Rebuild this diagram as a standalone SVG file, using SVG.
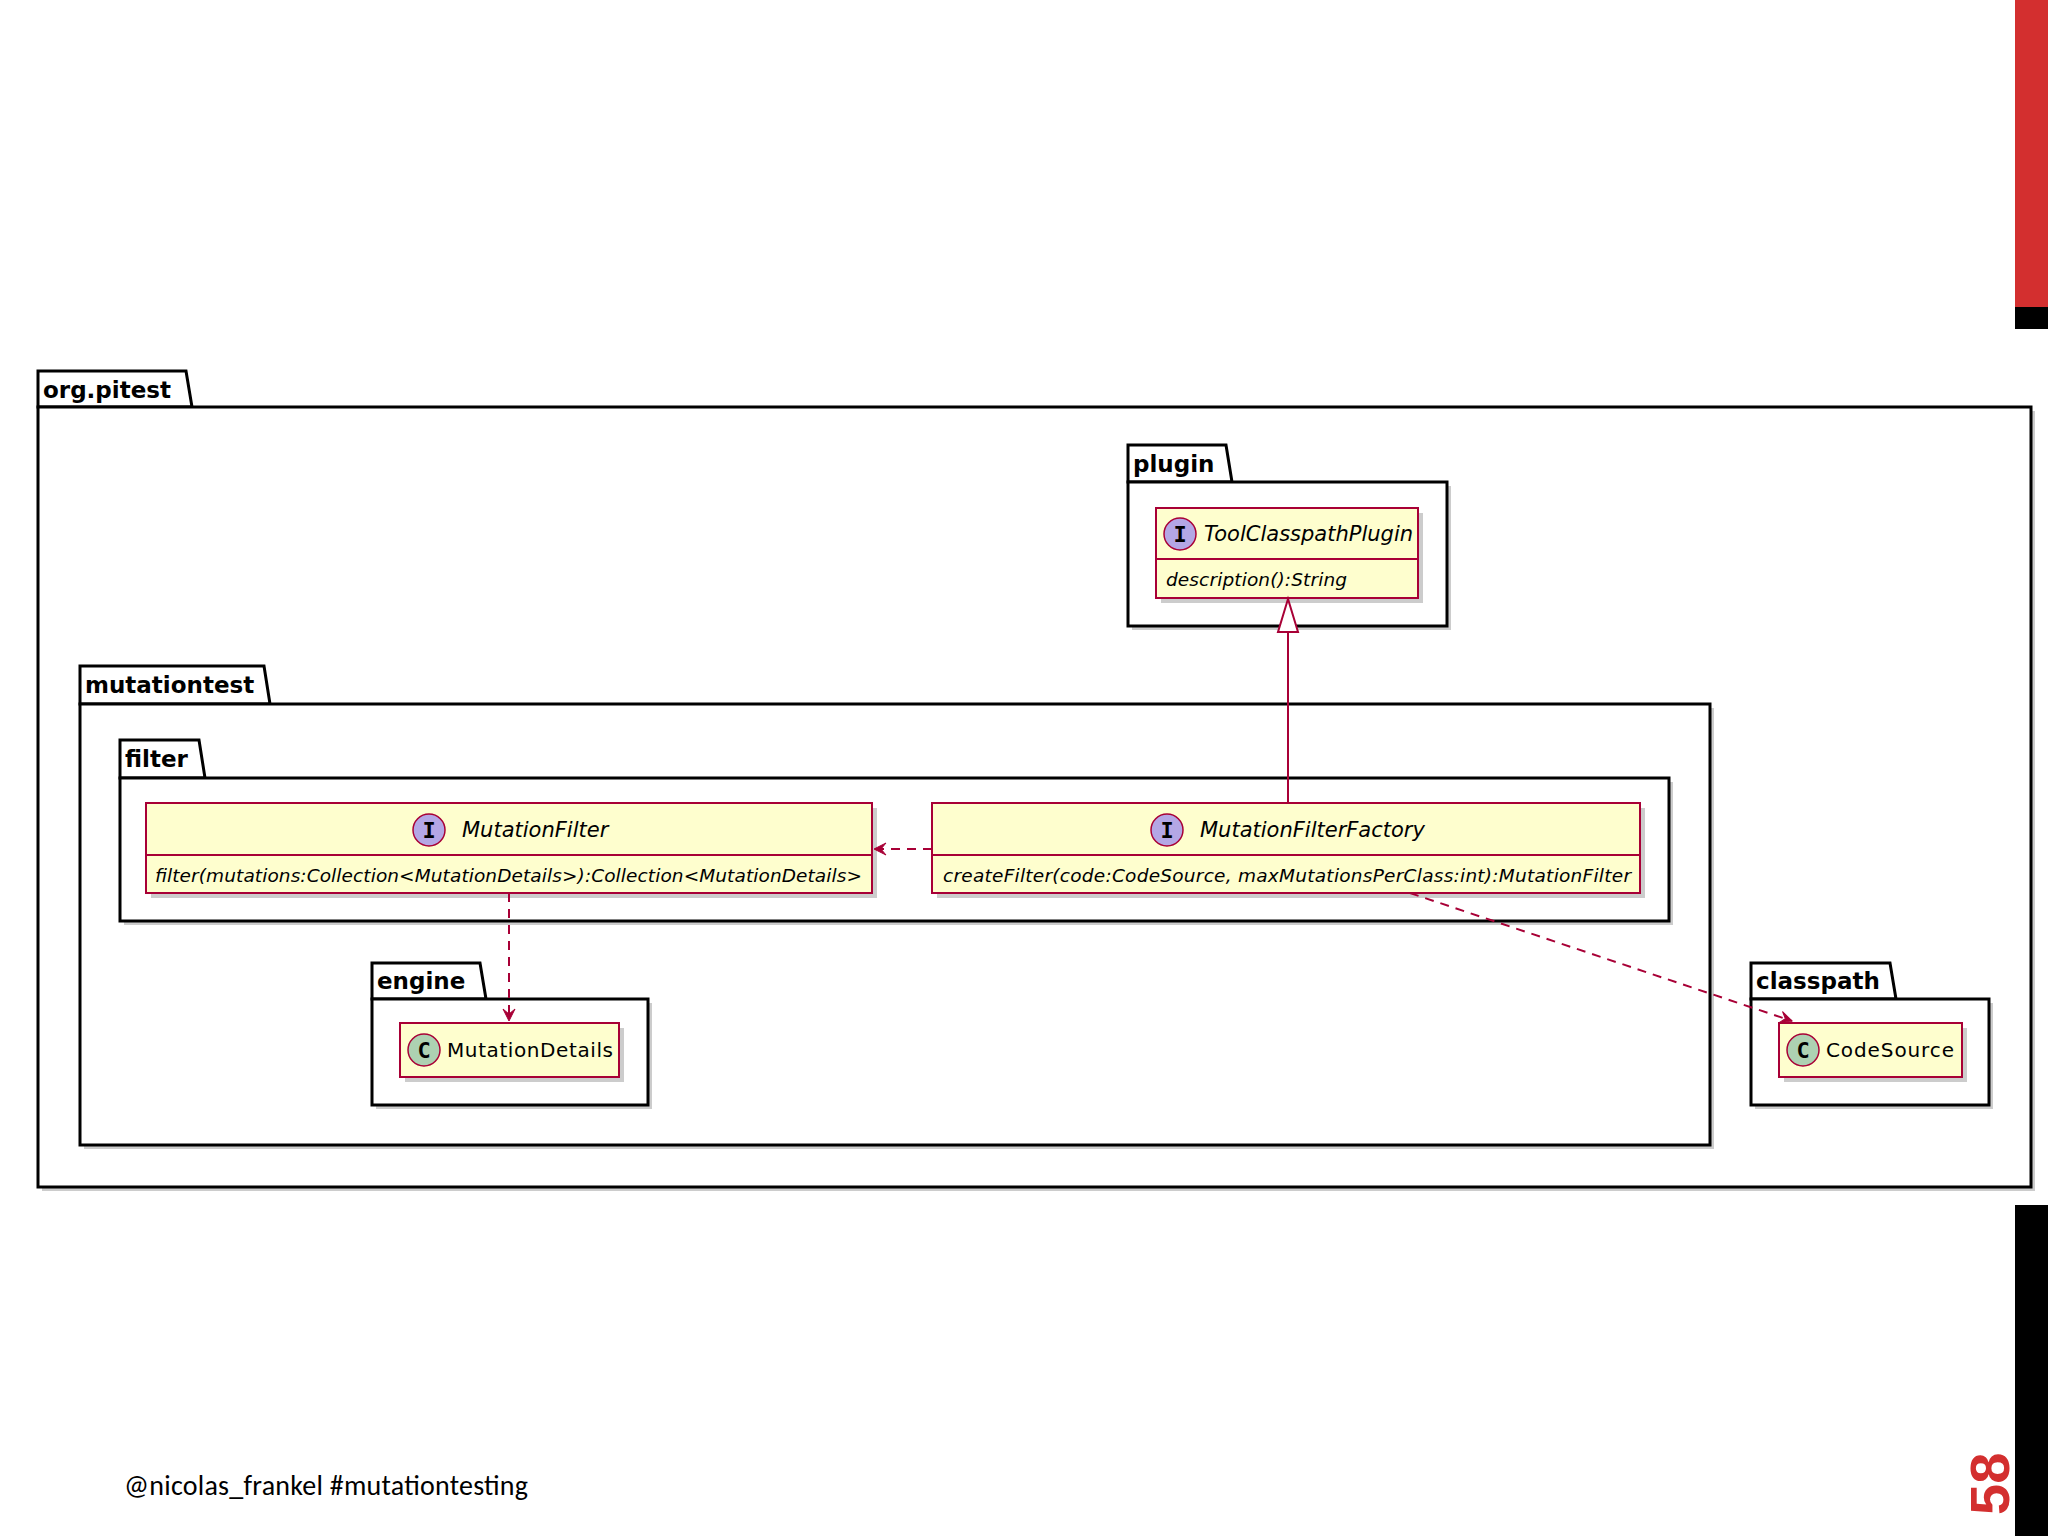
<svg xmlns="http://www.w3.org/2000/svg" width="2048" height="1536" viewBox="0 0 2048 1536">
<style>
.pkg{fill:#fff;stroke:#000;stroke-width:3}
.pl{font-family:"DejaVu Sans",sans-serif;font-weight:bold;font-size:23px;fill:#000}
.cls{fill:#FEFECE;stroke:#A80036;stroke-width:2}
.cn{font-family:"DejaVu Sans",sans-serif;font-style:italic;font-size:21px;fill:#000}
.cc{font-family:"DejaVu Sans",sans-serif;font-size:20px;fill:#000}
.mem{font-family:"DejaVu Sans",sans-serif;font-style:italic;font-size:18.5px;fill:#000}
.sh{fill:#000;opacity:0.2}
.ci{fill:#B4A7E5;stroke:#A80036;stroke-width:1.5}
.cc2{fill:#ADD1B2;stroke:#A80036;stroke-width:1.5}
.glyph{font-family:"DejaVu Sans Mono",monospace;font-weight:bold;font-size:22px;text-anchor:middle}
.edge{stroke:#A80036;stroke-width:2;fill:none}
.dash{stroke-dasharray:9,7}
</style>
<defs>
<marker id="open" markerWidth="16" markerHeight="16" refX="14" refY="8" orient="auto" markerUnits="userSpaceOnUse"><path d="M2,2 L14,8 L2,14 L7,8 Z" fill="#A80036" stroke="#A80036"/></marker>
</defs>
<rect x="2015" y="0" width="33" height="307" fill="#D32F2F"/>
<rect x="2015" y="307" width="33" height="22" fill="#000"/>
<rect x="2015" y="1205" width="33" height="331" fill="#000"/>
<text x="0" y="0" transform="translate(2009,1515) rotate(-90)" font-family="Liberation Sans,sans-serif" font-weight="bold" font-size="56" fill="#D32F2F">58</text>
<text x="124" y="1495" font-family="Carlito,Liberation Sans,sans-serif" font-size="28" fill="#000" textLength="404">@nicolas_frankel #mutationtesting</text>

<g id="org.pitest">
<rect x="42" y="411" width="1993" height="780" class="sh"/>
<path d="M38,407 L38,371 L186,371 L192,407 Z" class="pkg"/>
<rect x="38" y="407" width="1993" height="780" class="pkg"/>
<text x="43" y="398" class="pl">org.pitest</text>
</g>
<g id="plugin">
<rect x="1132" y="486" width="319" height="144" class="sh"/>
<path d="M1128,482 L1128,445 L1226,445 L1232,482 Z" class="pkg"/>
<rect x="1128" y="482" width="319" height="144" class="pkg"/>
<text x="1133" y="472" class="pl">plugin</text>
</g>
<g id="mutationtest">
<rect x="84" y="708" width="1630" height="441" class="sh"/>
<path d="M80,704 L80,666 L264,666 L270,704 Z" class="pkg"/>
<rect x="80" y="704" width="1630" height="441" class="pkg"/>
<text x="85" y="693" class="pl">mutationtest</text>
</g>
<g id="filter">
<rect x="124" y="782" width="1549" height="143" class="sh"/>
<path d="M120,778 L120,740 L199,740 L205,778 Z" class="pkg"/>
<rect x="120" y="778" width="1549" height="143" class="pkg"/>
<text x="125" y="767" class="pl">filter</text>
</g>
<g id="engine">
<rect x="376" y="1003" width="276" height="106" class="sh"/>
<path d="M372,999 L372,963 L480,963 L486,999 Z" class="pkg"/>
<rect x="372" y="999" width="276" height="106" class="pkg"/>
<text x="377" y="989" class="pl">engine</text>
</g>
<g id="classpath">
<rect x="1755" y="1003" width="238" height="106" class="sh"/>
<path d="M1751,999 L1751,963 L1890,963 L1896,999 Z" class="pkg"/>
<rect x="1751" y="999" width="238" height="106" class="pkg"/>
<text x="1756" y="989" class="pl">classpath</text>
</g>

<g id="ToolClasspathPlugin">
<rect x="1161" y="513" width="262" height="90" class="sh"/>
<rect x="1156" y="508" width="262" height="90" class="cls"/>
<line x1="1156" y1="559" x2="1418" y2="559" stroke="#A80036" stroke-width="2"/>
<circle cx="1180" cy="534" r="16" class="ci"/>
<text x="1180" y="542" class="glyph">I</text>
<text x="1204" y="541" class="cn">ToolClasspathPlugin</text>
<text x="1166" y="586" class="mem" textLength="181">description():String</text>
</g>
<g id="MutationFilter">
<rect x="151" y="808" width="726" height="90" class="sh"/>
<rect x="146" y="803" width="726" height="90" class="cls"/>
<line x1="146" y1="855" x2="872" y2="855" stroke="#A80036" stroke-width="2"/>
<circle cx="429" cy="830" r="16" class="ci"/>
<text x="429" y="838" class="glyph">I</text>
<text x="462" y="837" class="cn">MutationFilter</text>
<text x="155" y="882" class="mem" textLength="707">filter(mutations:Collection&lt;MutationDetails&gt;):Collection&lt;MutationDetails&gt;</text>
</g>
<g id="MutationFilterFactory">
<rect x="937" y="808" width="708" height="90" class="sh"/>
<rect x="932" y="803" width="708" height="90" class="cls"/>
<line x1="932" y1="855" x2="1640" y2="855" stroke="#A80036" stroke-width="2"/>
<circle cx="1167" cy="830" r="16" class="ci"/>
<text x="1167" y="838" class="glyph">I</text>
<text x="1200" y="837" class="cn">MutationFilterFactory</text>
<text x="943" y="882" class="mem" textLength="688">createFilter(code:CodeSource, maxMutationsPerClass:int):MutationFilter</text>
</g>
<g id="MutationDetails">
<rect x="405" y="1028" width="219" height="54" class="sh"/>
<rect x="400" y="1023" width="219" height="54" class="cls"/>
<circle cx="424" cy="1050" r="16" class="cc2"/>
<text x="424" y="1058" class="glyph">C</text>
<text x="447" y="1057" class="cc" textLength="166">MutationDetails</text>
</g>
<g id="CodeSource">
<rect x="1784" y="1028" width="183" height="54" class="sh"/>
<rect x="1779" y="1023" width="183" height="54" class="cls"/>
<circle cx="1803" cy="1050" r="16" class="cc2"/>
<text x="1803" y="1058" class="glyph">C</text>
<text x="1826" y="1057" class="cc" textLength="128">CodeSource</text>
</g>

<g id="connectors">
<line x1="1288" y1="803" x2="1288" y2="632" class="edge"/>
<path d="M1288,599 L1278,632 L1298,632 Z" fill="#fff" stroke="#A80036" stroke-width="2"/>
<line x1="932" y1="849" x2="874" y2="849" class="edge dash" marker-end="url(#open)"/>
<line x1="509" y1="893" x2="509" y2="1021" class="edge dash" marker-end="url(#open)"/>
<line x1="1410" y1="893" x2="1792" y2="1021" class="edge dash" marker-end="url(#open)"/>
</g>
</svg>
